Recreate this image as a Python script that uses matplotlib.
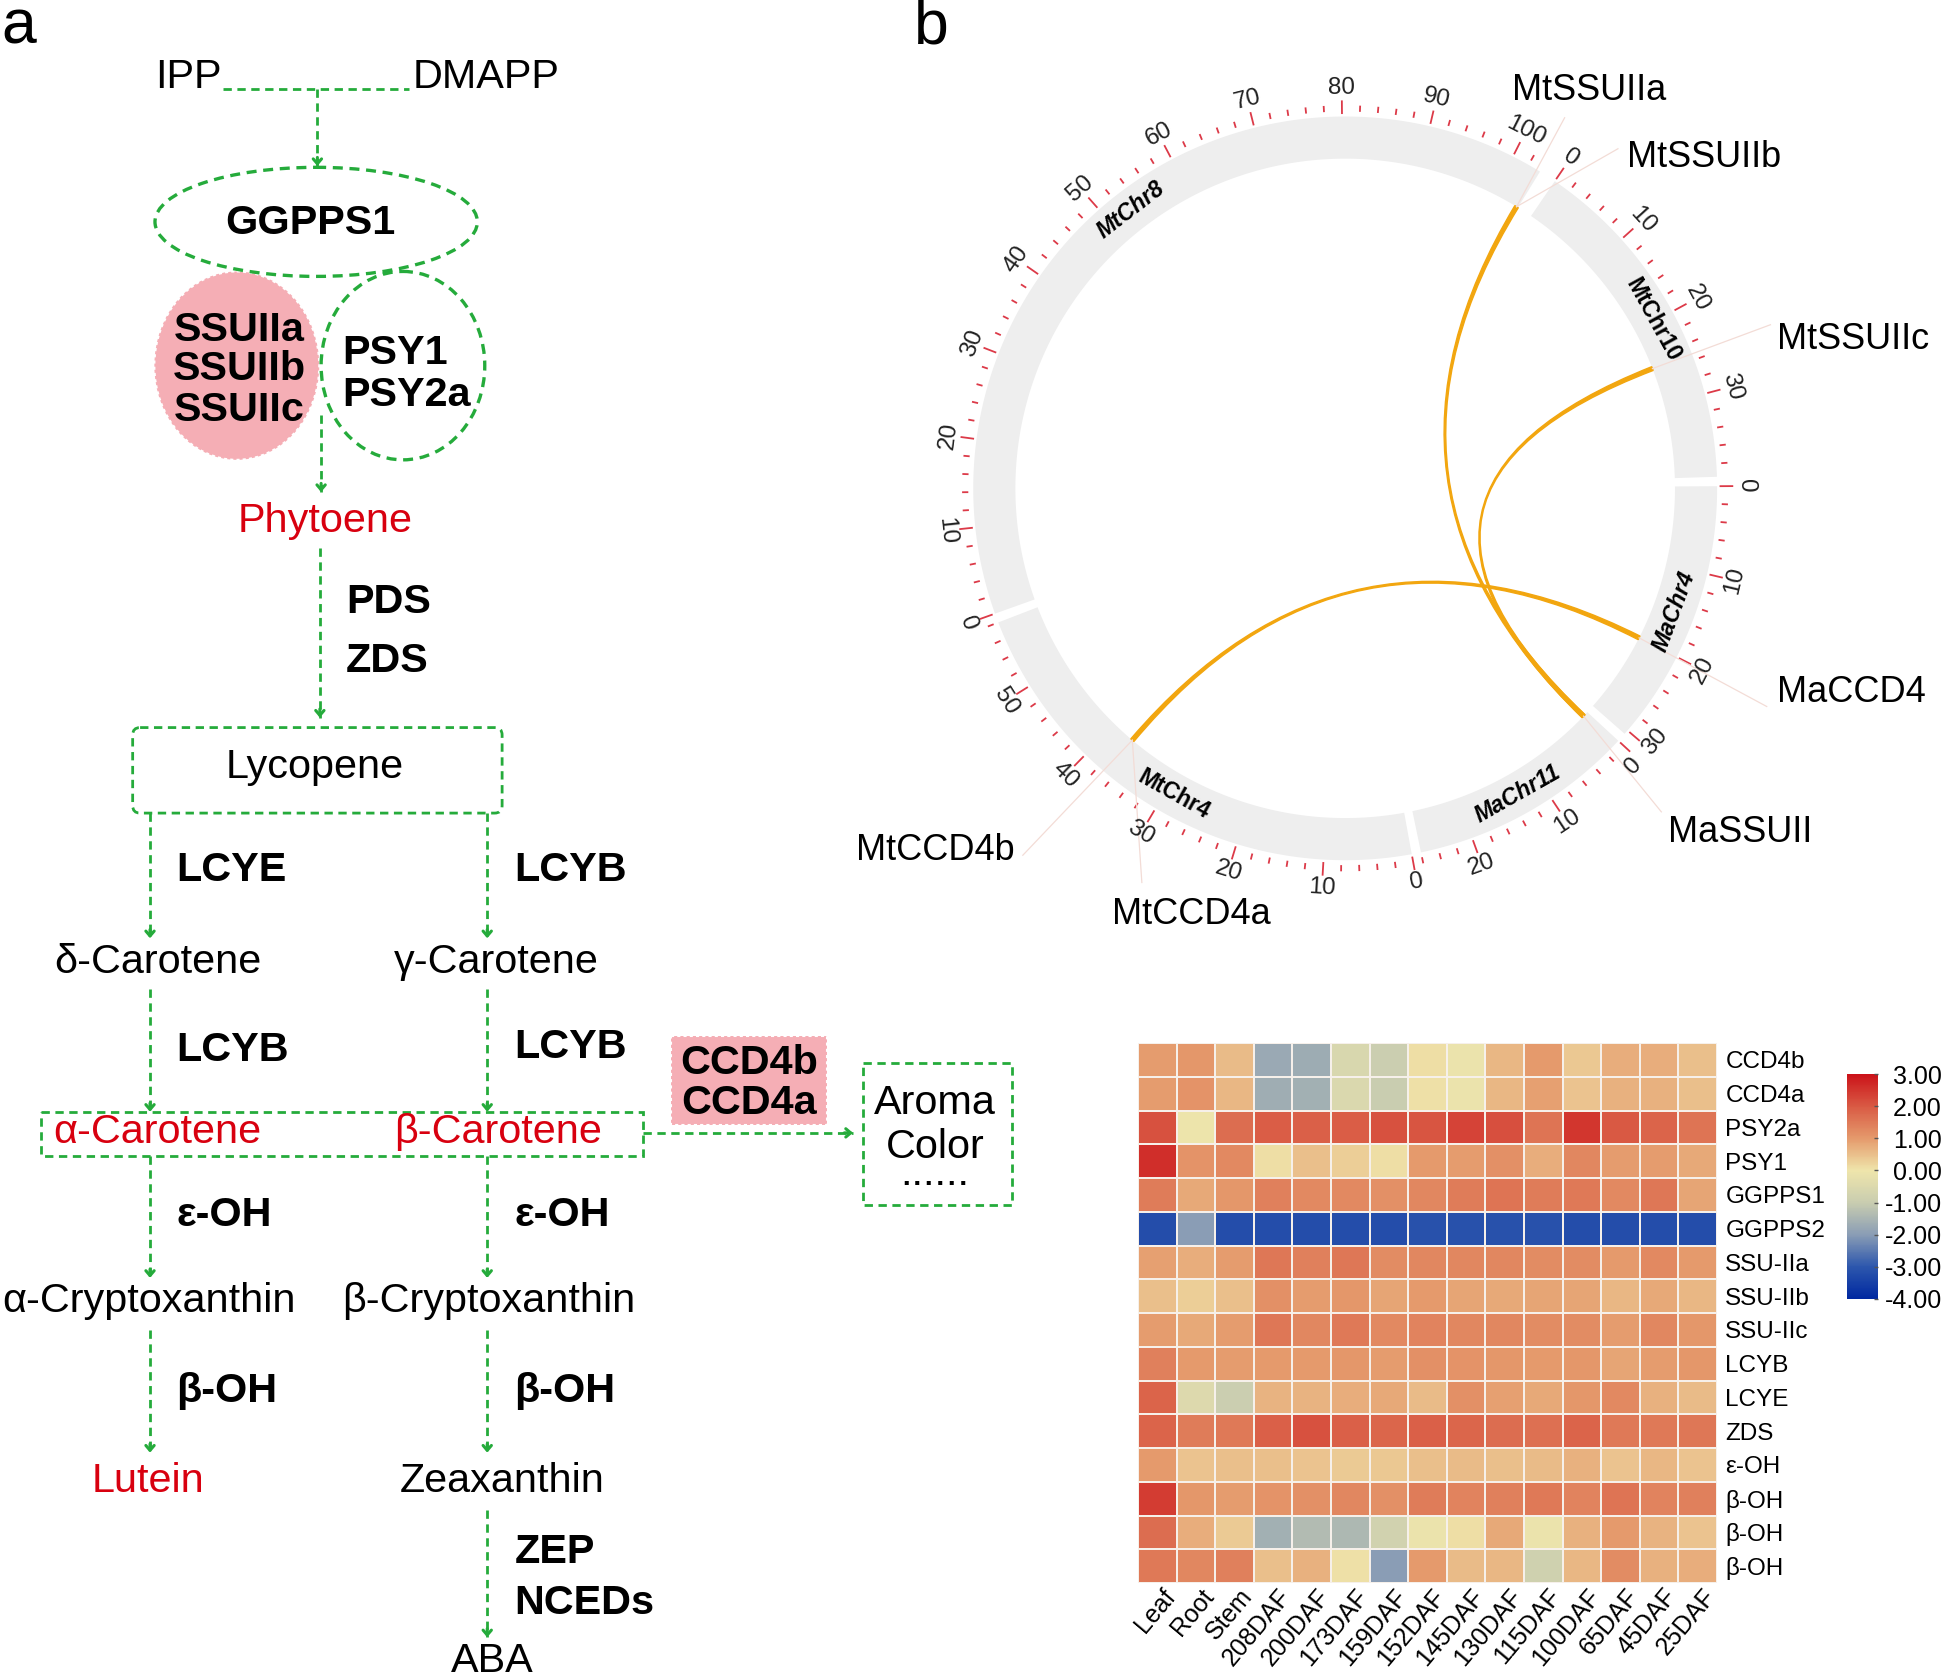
import numpy as np
import matplotlib
matplotlib.use('Agg')
import matplotlib.pyplot as plt
from matplotlib.patches import Ellipse, Rectangle, FancyBboxPatch, PathPatch, Polygon
from matplotlib.path import Path
from matplotlib.colors import LinearSegmentedColormap, Normalize
from matplotlib.colorbar import ColorbarBase
from matplotlib.transforms import ScaledTranslation

plt.rcParams['font.family'] = ['Liberation Sans', 'DejaVu Sans']

# heatmap data
genes = ['CCD4b', 'CCD4a', 'PSY2a', 'PSY1', 'GGPPS1', 'GGPPS2', 'SSU-IIa', 'SSU-IIb',
         'SSU-IIc', 'LCYB', 'LCYE', 'ZDS', 'ε-OH', 'β-OH', 'β-OH', 'β-OH']
tissues = ['Leaf', 'Root', 'Stem', '208DAF', '200DAF', '173DAF', '159DAF', '152DAF',
           '145DAF', '130DAF', '115DAF', '100DAF', '65DAF', '45DAF', '25DAF']
ccd4b = [0.95, 1.05, 0.55, -1.75, -1.7, -0.6, -0.95, 0.1, -0.1, 0.6, 1.0, 0.4, 0.75, 0.75, 0.5]
ccd4a = [0.95, 1.1, 0.6, -1.65, -1.6, -0.55, -1.0, 0.05, -0.1, 0.6, 0.9, 0.45, 0.7, 0.7, 0.5]
psy2a = [2.1, -0.05, 1.7, 1.95, 1.9, 1.95, 2.1, 2.05, 2.3, 2.15, 1.6, 2.5, 2.0, 1.85, 1.6]
psy1 = [2.6, 1.1, 1.25, 0.1, 0.5, 0.3, 0.1, 1.0, 0.95, 1.15, 0.75, 1.3, 0.95, 0.95, 0.8]
ggpps1 = [1.45, 0.8, 1.05, 1.4, 1.25, 1.25, 1.15, 1.3, 1.45, 1.6, 1.45, 1.5, 1.25, 1.55, 0.85]
ggpps2 = [-3.2, -2.0, -3.2, -3.2, -3.2, -3.2, -3.2, -3.1, -3.1, -3.1, -3.1, -3.2, -3.2, -3.2, -3.2]
ssu2a = [0.9, 0.75, 0.95, 1.55, 1.4, 1.55, 1.2, 1.3, 1.3, 1.3, 1.2, 1.2, 1.0, 1.25, 1.0]
ssu2b = [0.5, 0.3, 0.5, 1.15, 0.95, 1.05, 0.85, 1.0, 0.85, 0.8, 0.85, 0.85, 0.6, 0.8, 0.6]
ssu2c = [0.95, 0.8, 0.95, 1.55, 1.3, 1.5, 1.25, 1.35, 1.3, 1.3, 1.2, 1.2, 0.95, 1.3, 1.05]
lcyb = [1.4, 1.0, 0.95, 1.0, 1.0, 1.05, 0.95, 1.15, 1.1, 1.05, 1.0, 1.05, 0.85, 0.95, 1.05]
lcye = [1.85, -0.5, -0.95, 0.65, 0.65, 0.75, 0.8, 0.55, 1.15, 0.9, 0.8, 1.05, 1.25, 0.7, 0.55]
zds = [1.85, 1.45, 1.5, 1.9, 2.1, 1.9, 1.8, 1.9, 1.8, 1.7, 1.65, 1.85, 1.5, 1.5, 1.55]
eoh = [1.0, 0.45, 0.5, 0.5, 0.45, 0.35, 0.4, 0.5, 0.55, 0.5, 0.55, 0.7, 0.45, 0.6, 0.45]
boh1 = [2.4, 1.05, 0.95, 1.1, 1.15, 1.3, 1.15, 1.45, 1.35, 1.4, 1.5, 1.35, 1.6, 1.35, 1.4]
boh2 = [1.7, 0.75, 0.35, -1.6, -1.35, -1.45, -0.8, -0.1, 0.1, 0.8, -0.1, 0.7, 1.0, 0.65, 0.45]
boh3 = [1.5, 1.3, 1.4, 0.5, 0.7, 0.05, -2.0, 1.0, 0.55, 0.6, -0.85, 0.6, 1.2, 0.7, 0.75]
heat = np.array([ccd4b, ccd4a, psy2a, psy1, ggpps1, ggpps2, ssu2a, ssu2b, ssu2c, lcyb,
                 lcye, zds, eoh, boh1, boh2, boh3])

# circos data: chromosomes clockwise, lengths in Mb
chroms = ['MtChr10', 'MaChr4', 'MaChr11', 'MtChr4', 'MtChr8']
chrom_len = [39.5, 30.5, 26, 58, 103.5]
# (chrom, pos) at both ends of a link
links = [(('MtChr8', 103.3), ('MaChr11', 0.7)),
         (('MtChr10', 25.2), ('MaChr11', 0.7)),
         (('MtChr4', 37), ('MaChr4', 20))]
# gene label: (chrom, pos), label position
genes_circ = [('MtSSUIIa', 'MtChr8', 103.3, 1262, 95, 1282, 73, 'center'),
              ('MtSSUIIb', 'MtChr8', 103.3, 1305, 120, 1312, 127, 'left'),
              ('MtSSUIIc', 'MtChr10', 25.2, 1428, 262, 1433, 274, 'left'),
              ('MaCCD4', 'MaChr4', 20, 1425, 570, 1433, 559, 'left'),
              ('MaSSUII', 'MaChr11', 0.7, 1340, 655, 1345, 672, 'left'),
              ('MtCCD4b', 'MtChr4', 37, 825, 690, 818, 686, 'right'),
              ('MtCCD4a', 'MtChr4', 37, 921, 712, 961, 738, 'center')]
# the two labels at the MaChr4/MaChr11 joint are pushed apart
label_shift = {('MaChr4', 30): -1.4, ('MaChr11', 0): 1.2}

GREEN = '#25ab3b'
RED = '#d8000f'
PINK = '#f5aeb5'
FS = 29.8

fig = plt.figure(figsize=(19.44, 16.77), dpi=100)
ax = fig.add_axes([0, 0, 1, 1])
ax.set_xlim(0, 1568)
ax.set_ylim(1353, 0)
ax.axis('off')

ax.text(15, 22, 'a', fontsize=45, ha='center', va='center')
ax.text(751, 22, 'b', fontsize=45, ha='center', va='center')

# ---- pathway panel ----
DASH = (0, (3, 2))


def arrow(x0, y0, x1, y1):
    ax.plot([x0, x1], [y0, y1], color=GREEN, lw=2, ls=DASH, zorder=3)
    dx = np.sign(x1 - x0) * 7
    dy = np.sign(y1 - y0) * 7
    ax.annotate('', xy=(x1, y1), xytext=(x1 - dx, y1 - dy), zorder=3,
                arrowprops=dict(arrowstyle='->,head_width=0.3,head_length=0.35', color=GREEN, lw=2.2,
                                shrinkA=0, shrinkB=0))


arrows = [(256, 72, 256, 134), (259, 335, 259, 397), (258, 442, 258, 579),
          (121, 656, 121, 757), (393, 656, 393, 757), (121, 798, 121, 897), (393, 798, 393, 897),
          (121, 933, 121, 1031), (393, 933, 393, 1031), (121, 1073, 121, 1172), (393, 1073, 393, 1172),
          (393, 1218, 393, 1321), (519, 914, 688, 914)]
for a in arrows:
    arrow(*a)
ax.plot([180, 330], [72, 72], color=GREEN, lw=2, ls=DASH)

ax.add_patch(Ellipse((191, 295), 133, 152, fc=PINK, ec='white', lw=1.5, ls=(0, (1.5, 1.5)), zorder=2))
ax.add_patch(Ellipse((255, 179), 260, 88, fc='none', ec=GREEN, lw=2.4, ls=DASH, zorder=3))
ax.add_patch(Ellipse((325, 295), 132, 152, fc='none', ec=GREEN, lw=2.4, ls=DASH, zorder=3))
ax.add_patch(FancyBboxPatch((110, 590), 292, 63, boxstyle='round,pad=3,rounding_size=6',
                            fc='none', ec=GREEN, lw=2, ls=DASH, zorder=3))
ax.add_patch(Rectangle((33, 897), 486, 36, fc='none', ec=GREEN, lw=2, ls=DASH, zorder=3))
ax.add_patch(Rectangle((696, 858), 120, 114, fc='none', ec=GREEN, lw=2, ls=DASH, zorder=3))
ax.add_patch(Rectangle((541, 836), 126, 72, fc=PINK, ec='white', lw=1.5, ls=(0, (1.5, 1.5)), zorder=2))

plain = [('IPP', 152, 62.5, 'k'), ('DMAPP', 392, 62.5, 'k'), ('Phytoene', 262, 420.5, RED),
         ('Lycopene', 254, 618.5, 'k'), ('δ-Carotene', 127, 776.5, 'k'), ('γ-Carotene', 400, 776.5, 'k'),
         ('α-Carotene', 127, 913.5, RED), ('β-Carotene', 402, 913.5, RED), ('Aroma', 754, 889.5, 'k'),
         ('Color', 754, 925.5, 'k'), ('......', 754, 947, 'k'), ('α-Cryptoxanthin', 120, 1049.5, 'k'),
         ('β-Cryptoxanthin', 394, 1049.5, 'k'), ('Lutein', 119, 1194.5, RED), ('Zeaxanthin', 405, 1194.5, 'k'),
         ('ABA', 397, 1340, 'k')]
for s, x, y, c in plain:
    ax.text(x, y, s, color=c, fontsize=FS, ha='center', va='center', zorder=4)

bold_c = [('GGPPS1', 250, 180), ('SSUIIa', 193, 266), ('SSUIIb', 193, 298), ('SSUIIc', 193, 331),
          ('CCD4b', 604, 858), ('CCD4a', 604, 890)]
for s, x, y in bold_c:
    ax.text(x, y, s, fontsize=FS, fontweight='bold', ha='center', va='center', zorder=4)

bold_l = [('PSY1', 276, 285), ('PSY2a', 276, 319), ('PDS', 279, 486), ('ZDS', 279, 533), ('LCYE', 142, 702),
          ('LCYB', 415, 702), ('LCYB', 142, 847), ('LCYB', 415, 845), ('ε-OH', 142, 980), ('ε-OH', 415, 980),
          ('β-OH', 142, 1122), ('β-OH', 415, 1122), ('ZEP', 415, 1252), ('NCEDs', 415, 1293)]
for s, x, y in bold_l:
    ax.text(x, y, s, fontsize=FS, fontweight='bold', ha='left', va='center', zorder=4)

# ---- circos panel ----
CX, CY = 1085, 394
R_OUT, R_IN = 300, 266
DEG = 1.365  # degrees per Mb
GAP = 1.45
START = 34.3

starts = {}
a = START
for name, n in zip(chroms, chrom_len):
    starts[name] = a
    a += n * DEG + GAP


def pol(theta, r):
    t = np.radians(theta)
    return CX + r * np.sin(t), CY - r * np.cos(t)


def angle(chrom, pos):
    return starts[chrom] + pos * DEG


for name, n in zip(chroms, chrom_len):
    th = np.linspace(starts[name], starts[name] + n * DEG, 200)
    outer = np.array(pol(th, R_OUT)).T
    inner = np.array(pol(th[::-1], R_IN)).T
    ax.add_patch(Polygon(np.vstack([outer, inner]), fc='#eeeeee', ec='none', zorder=1))

    # ticks every 2 Mb, labels every 10
    for p in range(0, int(n) + 1, 2):
        th0 = angle(name, p)
        major = p % 10 == 0
        r0, r1 = (R_OUT + 2, R_OUT + 13) if major else (R_OUT + 4, R_OUT + 9)
        (x0, y0), (x1, y1) = pol(th0, r0), pol(th0, r1)
        ax.plot([x0, x1], [y0, y1], color='#dc3a48', lw=1.3, solid_capstyle='butt', zorder=2)
        if major:
            th1 = (th0 + label_shift.get((name, p), 0)) % 360
            rot = 180 - th1 if 90 < th1 < 270 else -th1
            x, y = pol(th1, R_OUT + 23)
            ax.text(x, y, str(p), fontsize=17.5, color='#222222', rotation=rot, rotation_mode='anchor',
                    ha='center', va='center', zorder=4)

    thm = starts[name] + n * DEG / 2
    if name == 'MtChr8':
        thm += 1.5
    rot = 180 - thm if 90 < thm % 360 < 270 else -(thm % 360)
    x, y = pol(thm, 283)
    style = 'italic' if name in ('MtChr8', 'MaChr4', 'MaChr11') else 'normal'
    ax.text(x, y, name, fontsize=16.5, fontweight='bold', fontstyle=style, rotation=rot,
            rotation_mode='anchor', ha='center', va='center', zorder=5)

LW = 0.35  # half width of a link end in degrees
for (c0, p0), (c1, p1) in links:
    t0, t1 = angle(c0, p0), angle(c1, p1)
    verts = [pol(t0 - LW, R_IN), (CX, CY), pol(t1 + LW, R_IN), pol(t1 - LW, R_IN), (CX, CY),
             pol(t0 + LW, R_IN), pol(t0 - LW, R_IN)]
    codes = [Path.MOVETO, Path.CURVE3, Path.CURVE3, Path.LINETO, Path.CURVE3, Path.CURVE3, Path.CLOSEPOLY]
    ax.add_patch(PathPatch(Path(verts, codes), fc='#f2a60f', ec='#f2a60f', lw=1.0, zorder=3))

for s, c, p, lx, ly, tx, ty, ha in genes_circ:
    x0, y0 = pol(angle(c, p), R_IN)
    ax.plot([x0, lx], [y0, ly], color='#f3dcd6', lw=0.9, zorder=3)
    ax.text(tx, ty, s, fontsize=26, ha=ha, va='center', zorder=4)

# ---- heatmap ----
W, H = 1944., 1677.
cmap = LinearSegmentedColormap.from_list('expr', [
    (0 / 7, '#0028a0'), (1 / 7, '#2d57ad'), (2 / 7, '#8a9db5'), (3 / 7, '#c9cdb0'),
    (4 / 7, '#efe5ab'), (5 / 7, '#e59a6c'), (6 / 7, '#d95a44'), (7 / 7, '#cb1219')])
norm = Normalize(-4, 3)

hax = fig.add_axes([1138 / W, 1 - 1583 / H, 579 / W, 540 / H])
hax.pcolormesh(heat, cmap=cmap, norm=norm, edgecolors='#f6f0ea', linewidth=1.2)
hax.set_ylim(len(genes), 0)
hax.set_xlim(0, len(tissues))
hax.yaxis.tick_right()
hax.set_yticks(np.arange(len(genes)) + 0.5, genes, fontsize=17.5)
hax.set_xticks(np.arange(len(tissues)) + 0.5)
hax.set_xticklabels(tissues, fontsize=18, rotation=50, ha='right', rotation_mode='anchor')
hax.tick_params(axis='y', length=0, pad=6)
hax.tick_params(axis='x', length=0, pad=1)
# x labels sit a little right of the cell centres
for lab in hax.get_xticklabels():
    lab.set_transform(lab.get_transform() + ScaledTranslation(3 / 72, 0, fig.dpi_scale_trans))
for sp in hax.spines.values():
    sp.set_visible(False)

cax = fig.add_axes([1847 / W, 1 - 1299 / H, 31 / W, 225 / H])
cb = ColorbarBase(cax, cmap=cmap, norm=norm, ticks=[3, 2, 1, 0, -1, -2, -3, -4])
cb.ax.set_yticklabels(['3.00', '2.00', '1.00', '0.00', '-1.00', '-2.00', '-3.00', '-4.00'],
                      fontsize=18, ha='right')
cb.outline.set_visible(False)
cb.ax.tick_params(length=3, width=1, color='#555555', direction='in', pad=46)

fig.savefig('out.png', dpi=100)
